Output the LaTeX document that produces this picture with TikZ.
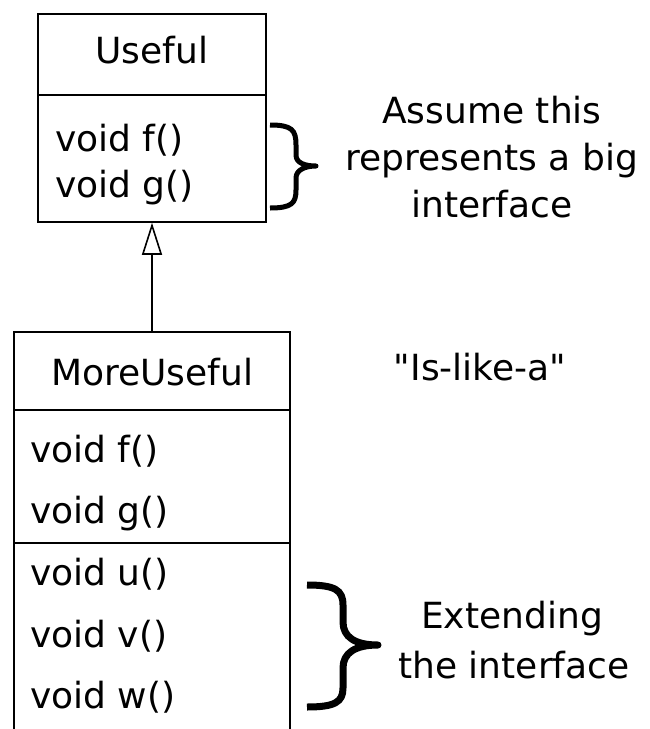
\documentclass[tikz,border=0pt]{standalone}
\usepackage{fontspec}
\setmainfont{DejaVu Sans}[Ligatures=TeXOff]
\usetikzlibrary{arrows.meta}
\begin{document}
\begin{tikzpicture}[x=1pt,y=-1pt,
  box/.style={draw=black, line width=1.6pt, inner sep=0pt},
  divider/.style={draw=black, line width=1.6pt},
  txt/.style={inner sep=0pt, anchor=base west, font=\fontsize{36}{43}\selectfont},
  lbl/.style={inner sep=0pt, anchor=base, font=\fontsize{36}{43}\selectfont},
  brace/.style={draw=black, line width=5pt, line join=round},
  inherit/.style={draw=black, line width=1.6pt, -{Triangle[open, length=32pt, width=20pt, line width=1.6pt]}},
]
\useasboundingbox (0,0) rectangle (650,729);
% Useful class
\node[box, minimum width=228pt, minimum height=208pt] (useful) at (152,118) {};
\draw[divider] (38,95) -- (266,95);
\node[lbl] (uname) at (152,63) {Useful};
\node[txt] (uf) at (55,151) {void f()};
\node[txt] (ug) at (55,197) {void g()};
% MoreUseful class
\node[box, minimum width=276pt, minimum height=413pt] (more) at (152,538.5) {};
\draw[divider] (14,410) -- (290,410);
\draw[divider] (14,543) -- (290,543);
\node[lbl] (mname) at (152,385) {MoreUseful};
\node[txt] (mf) at (30,462) {void f()};
\node[txt] (mg) at (30,523) {void g()};
\node[txt] (mu) at (30,585) {void u()};
\node[txt] (mv) at (30,647) {void v()};
\node[txt] (mw) at (30,708) {void w()};
% inheritance
\draw[inherit] (more.north) -- (useful.south);
% upper brace
\draw[brace] (270,125) .. controls (292,125) and (296,130) .. (296,145) -- (296,155)
  .. controls (296,163) and (305,166) .. (316,166)
  .. controls (305,166) and (296,170) .. (296,178) -- (296,190)
  .. controls (296,203) and (292,208) .. (270,208);
\node[lbl] (a1) at (492,123) {Assume this};
\node[lbl] (a2) at (492,170) {represents a big};
\node[lbl] (a3) at (492,217) {interface};
\node[lbl] (islike) at (480,380) {"Is-like-a"};
% lower brace
\draw[brace, line width=7pt] (307,585) .. controls (335,585) and (343,590) .. (343,605) -- (343,622)
  .. controls (343,637) and (355,645) .. (378,645)
  .. controls (355,645) and (343,653) .. (343,668) -- (343,688)
  .. controls (343,702) and (335,707) .. (307,707);
\node[lbl] (e1) at (512,628) {Extending};
\node[lbl] (e2) at (514,678) {the interface};
\end{tikzpicture}
\end{document}
